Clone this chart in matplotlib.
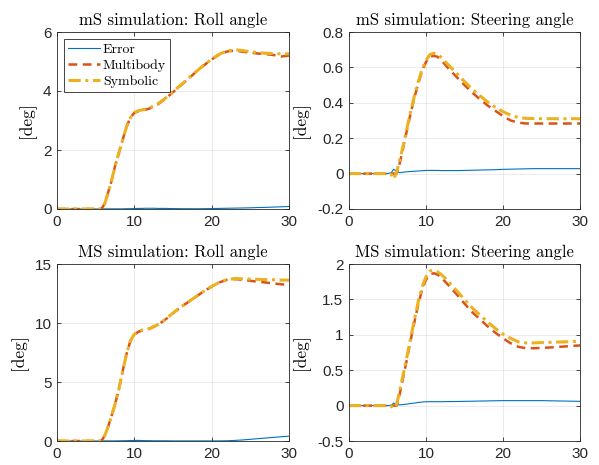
import matplotlib
matplotlib.use("Agg")
import matplotlib.pyplot as plt

# ---------------- data ----------------
t = [0, 1, 2, 3, 4, 5, 5.5, 5.8, 6.2, 6.6, 7, 7.5, 8, 8.5, 9, 9.5, 10, 10.5, 11, 11.5,
     12, 12.5, 13, 14, 15, 16, 17, 18, 19, 20, 21, 22, 23, 24, 25, 26, 27, 28, 29, 30]

# mS simulation: roll angle
mS_roll_sym = [0, 0, 0, 0, 0, 0, 0, 0.02, 0.2, 0.55, 0.9, 1.45, 1.9, 2.35, 2.8, 3.1, 3.27, 3.33, 3.36, 3.39,
               3.43, 3.5, 3.56, 3.75, 3.98, 4.2, 4.43, 4.66, 4.88, 5.08, 5.25, 5.36, 5.4, 5.37, 5.33, 5.3, 5.28, 5.27, 5.26, 5.26]
mS_roll_mb = [0, 0, 0, 0, 0, 0, 0, 0.02, 0.2, 0.55, 0.9, 1.45, 1.9, 2.35, 2.8, 3.1, 3.26, 3.31, 3.34, 3.37,
              3.41, 3.48, 3.54, 3.73, 3.96, 4.19, 4.42, 4.65, 4.87, 5.07, 5.24, 5.34, 5.37, 5.33, 5.3, 5.27, 5.25, 5.22, 5.17, 5.2]
mS_roll_err = [0, 0, 0, 0, 0, 0, 0, 0, 0.005, 0.005, 0.005, 0.005, 0.005, 0.005, 0.01, 0.01, 0.015, 0.02, 0.02, 0.025,
               0.025, 0.025, 0.02, 0.02, 0.015, 0.01, 0.01, 0.008, 0.01, 0.015, 0.02, 0.025, 0.03, 0.035, 0.04, 0.05, 0.055, 0.065, 0.075, 0.085]

# mS simulation: steering angle
mS_steer_sym = [0, 0, 0, 0, 0, 0, -0.005, -0.03, 0.01, 0.08, 0.15, 0.25, 0.35, 0.44, 0.52, 0.59, 0.64, 0.672, 0.68, 0.675,
                0.655, 0.632, 0.61, 0.566, 0.52, 0.478, 0.44, 0.405, 0.375, 0.35, 0.33, 0.317, 0.312, 0.311, 0.31, 0.31, 0.31, 0.31, 0.31, 0.31]
mS_steer_mb = [0, 0, 0, 0, 0, 0, 0, 0, 0.0, 0.06, 0.14, 0.24, 0.34, 0.43, 0.51, 0.58, 0.63, 0.66, 0.665, 0.66,
               0.64, 0.615, 0.59, 0.545, 0.5, 0.458, 0.42, 0.385, 0.355, 0.325, 0.3, 0.288, 0.283, 0.283, 0.283, 0.283, 0.283, 0.283, 0.283, 0.283]
mS_steer_err = [0, 0, 0, 0, 0, 0, 0.005, 0.025, 0.012, 0.005, 0.008, 0.01, 0.012, 0.013, 0.015, 0.016, 0.018, 0.018, 0.018, 0.018,
                0.017, 0.017, 0.017, 0.017, 0.018, 0.019, 0.02, 0.021, 0.022, 0.024, 0.025, 0.026, 0.027, 0.028, 0.028, 0.028, 0.028, 0.028, 0.028, 0.028]

# MS simulation: roll angle
MS_roll_sym = [0, 0, 0, 0, 0, 0, 0, 0.05, 0.5, 1.2, 2.0, 3.1, 4.4, 5.95, 7.4, 8.5, 9.05, 9.3, 9.4, 9.45,
               9.55, 9.7, 9.85, 10.3, 10.85, 11.35, 11.8, 12.25, 12.7, 13.1, 13.45, 13.68, 13.77, 13.75, 13.72, 13.7, 13.68, 13.66, 13.64, 13.63]
MS_roll_mb = [0, 0, 0, 0, 0, 0, 0, 0.05, 0.5, 1.2, 2.0, 3.1, 4.4, 5.95, 7.4, 8.5, 9.0, 9.25, 9.36, 9.42,
              9.52, 9.68, 9.83, 10.28, 10.84, 11.34, 11.79, 12.24, 12.69, 13.09, 13.44, 13.66, 13.72, 13.66, 13.58, 13.5, 13.43, 13.35, 13.28, 13.22]
MS_roll_err = [0, 0, 0, 0, 0, 0, 0, 0, 0.01, 0.01, 0.01, 0.01, 0.02, 0.02, 0.03, 0.04, 0.05, 0.05, 0.04, 0.03,
               0.03, 0.02, 0.02, 0.02, 0.01, 0.01, 0.01, 0.01, 0.01, 0.01, 0.01, 0.02, 0.05, 0.09, 0.14, 0.2, 0.25, 0.31, 0.36, 0.41]

# MS simulation: steering angle
MS_steer_sym = [0, 0, 0, 0, 0, 0, -0.01, -0.04, 0.02, 0.22, 0.42, 0.68, 0.95, 1.22, 1.47, 1.68, 1.82, 1.9, 1.91, 1.89,
                1.85, 1.8, 1.74, 1.62, 1.5, 1.38, 1.28, 1.18, 1.09, 1.01, 0.95, 0.9, 0.885, 0.885, 0.89, 0.893, 0.897, 0.9, 0.905, 0.91]
MS_steer_mb = [0, 0, 0, 0, 0, 0, 0, 0, 0.0, 0.17, 0.38, 0.64, 0.92, 1.18, 1.43, 1.64, 1.78, 1.85, 1.87, 1.85,
               1.81, 1.75, 1.69, 1.57, 1.44, 1.32, 1.22, 1.12, 1.03, 0.95, 0.88, 0.83, 0.81, 0.81, 0.815, 0.82, 0.828, 0.835, 0.843, 0.85]
MS_steer_err = [0, 0, 0, 0, 0, 0, 0.005, 0.035, 0.015, 0.01, 0.015, 0.02, 0.03, 0.035, 0.045, 0.05, 0.055, 0.055, 0.055, 0.055,
                0.055, 0.056, 0.057, 0.058, 0.06, 0.062, 0.064, 0.066, 0.068, 0.07, 0.07, 0.07, 0.07, 0.07, 0.07, 0.068, 0.066, 0.064, 0.062, 0.06]

titles = ["mS simulation: Roll angle", "mS simulation: Steering angle",
          "MS simulation: Roll angle", "MS simulation: Steering angle"]
series = [(mS_roll_err, mS_roll_mb, mS_roll_sym),
          (mS_steer_err, mS_steer_mb, mS_steer_sym),
          (MS_roll_err, MS_roll_mb, MS_roll_sym),
          (MS_steer_err, MS_steer_mb, MS_steer_sym)]
ylims = [(0, 6), (-0.2, 0.8), (0, 15), (-0.5, 2)]
yticks = [[0, 2, 4, 6], [-0.2, 0, 0.2, 0.4, 0.6, 0.8], [0, 5, 10, 15], [-0.5, 0, 0.5, 1, 1.5, 2]]
yticklabels = [["0", "2", "4", "6"], ["-0.2", "0", "0.2", "0.4", "0.6", "0.8"],
               ["0", "5", "10", "15"], ["-0.5", "0", "0.5", "1", "1.5", "2"]]
xticks = [0, 10, 20, 30]
legend_labels = ["Error", "Multibody", "Symbolic"]

# ---------------- style ----------------
c_err = (0.0, 0.447, 0.741)
c_mb = (0.85, 0.325, 0.098)
c_sym = (0.929, 0.694, 0.125)
axc = (0.15, 0.15, 0.15)
serif = "cmr10"

fig = plt.figure(figsize=(5.99, 4.65), dpi=100)
W, H = 599, 465
boxes = [(57, 32, 289, 209), (349, 32, 580, 209), (57, 264, 289, 441), (349, 264, 580, 441)]

for i, (x0, y0, x1, y1) in enumerate(boxes):
    ax = fig.add_axes([x0 / W, 1 - y1 / H, (x1 - x0) / W, (y1 - y0) / H])
    err, mb, sym = series[i]
    l1, = ax.plot(t, err, color=c_err, lw=0.8, label=legend_labels[0])
    l2, = ax.plot(t, mb, color=c_mb, lw=1.8, ls=(0, (3.5, 2.2)), label=legend_labels[1])
    l3, = ax.plot(t, sym, color=c_sym, lw=2.2, ls=(0, (4, 1.5, 1, 1.5)), label=legend_labels[2])
    ax.set_xlim(0, 30)
    ax.set_ylim(*ylims[i])
    ax.set_xticks(xticks)
    ax.set_xticklabels([str(v) for v in xticks])
    ax.set_yticks(yticks[i])
    ax.set_yticklabels(yticklabels[i])
    ax.grid(True, color=(0.15, 0.15, 0.15), alpha=0.1, lw=0.6)
    ax.set_axisbelow(True)
    ax.tick_params(direction="in", top=True, right=True, length=3, width=0.6, colors=axc,
                   labelsize=11, pad=4)
    for lab in ax.get_xticklabels() + ax.get_yticklabels():
        lab.set_fontfamily("Liberation Sans")
        lab.set_color(axc)
    for s in ax.spines.values():
        s.set_color(axc)
        s.set_linewidth(0.6)
    ax.set_title(titles[i], fontfamily=serif, fontsize=12, pad=5)
    ax.set_ylabel("[deg]", fontfamily=serif, fontsize=12.5, labelpad=5)
    if i == 0:
        leg = ax.legend(loc="upper left", prop={"family": serif, "size": 10},
                        frameon=True, fancybox=False, handlelength=2.3, handletextpad=0.2,
                        borderpad=0.3, labelspacing=0.25, borderaxespad=0.5, framealpha=1)
        leg.get_frame().set_edgecolor(axc)
        leg.get_frame().set_linewidth(0.6)

fig.savefig("out.png", dpi=100)
